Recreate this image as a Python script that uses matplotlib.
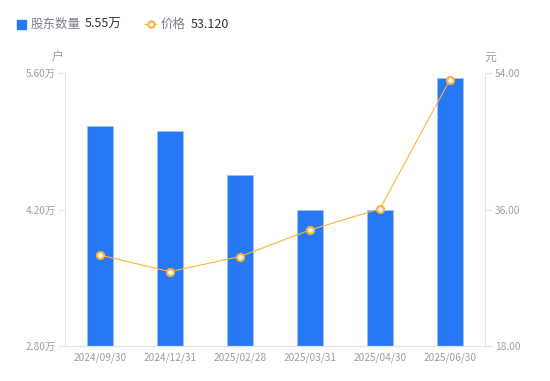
import matplotlib
matplotlib.use("Agg")
import matplotlib.pyplot as plt
from matplotlib.lines import Line2D
from matplotlib.patches import Rectangle

plt.rcParams['font.family'] = ['Noto Sans CJK SC', 'DejaVu Sans']

dates = ["2024/09/30", "2024/12/31", "2025/02/28", "2025/03/31", "2025/04/30", "2025/06/30"]
holders = [5.06, 5.01, 4.55, 4.20, 4.20, 5.55]   # 万户
price = [30.0, 27.8, 29.8, 33.3, 36.1, 53.12]      # 元

left_ticks = [2.80, 4.20, 5.60]
right_ticks = [18.0, 36.0, 54.0]

blue = '#2778f5'
orange = '#fbb33c'
gray = '#9c9cab'
axcol = '#e2e2e8'

fig = plt.figure(figsize=(5.5, 3.81), dpi=100)
ax = fig.add_axes([65/550, 1-346/381, 420/550, 273/381])
ax2 = ax.twinx()

x = range(len(dates))
ax.bar(x, holders, width=0.36, color=blue, edgecolor='#9cc2fb', linewidth=0.6, zorder=2)
ax.set_xlim(-0.5, len(dates)-0.5)
ax.set_ylim(left_ticks[0], left_ticks[-1])
ax.set_yticks(left_ticks)
ax.set_yticklabels([f"{v:.2f}万" for v in left_ticks])
ax.set_xticks(list(x))
ax.set_xticklabels(dates)

ax2.plot(x, price, color=orange, lw=0.8, marker='o', ms=5, mfc='white',
         mec=orange, mew=1.6, zorder=3)
ax2.set_ylim(right_ticks[0], right_ticks[-1])
ax2.set_yticks(right_ticks)
ax2.set_yticklabels([f"{v:.2f}" for v in right_ticks])

for a in (ax, ax2):
    for s in a.spines.values():
        s.set_color(axcol)
        s.set_linewidth(0.8)
    a.spines['top'].set_visible(False)
    a.tick_params(axis='y', colors=axcol, labelcolor=gray, labelsize=7.3, length=5, width=0.8, pad=2)
    a.tick_params(axis='x', length=0, labelcolor=gray, labelsize=7.3, pad=5)
ax.spines['right'].set_visible(False)
ax2.spines['left'].set_visible(False)

# unit labels
fig.text(58/550, 1-57/381, "户", color=gray, fontsize=8.5, ha='center', va='center')
fig.text(490/550, 1-57/381, "元", color=gray, fontsize=8.5, ha='center', va='center')

# legend row
fig.patches.append(Rectangle((17/550, 1-29/381), 9/550, 9/381, transform=fig.transFigure,
                             color=blue, figure=fig))
fig.text(31/550, 1-24/381, "股东数量", color='#7d7d8c', fontsize=9, va='center')
fig.text(85/550, 1-24/381, "5.55万", color='#333333', fontsize=9, va='center')
fig.lines.append(Line2D([145/550, 156/550], [1-24/381, 1-24/381], transform=fig.transFigure,
                        color=orange, lw=1))
fig.lines.append(Line2D([150.5/550], [1-24/381], transform=fig.transFigure, color=orange,
                        marker='o', ms=4.5, mfc='white', mec=orange, mew=1.5))
fig.text(161/550, 1-24/381, "价格", color='#7d7d8c', fontsize=9, va='center')
fig.text(191/550, 1-24/381, "53.120", color='#333333', fontsize=9, va='center')

fig.savefig("out.png", dpi=100)
